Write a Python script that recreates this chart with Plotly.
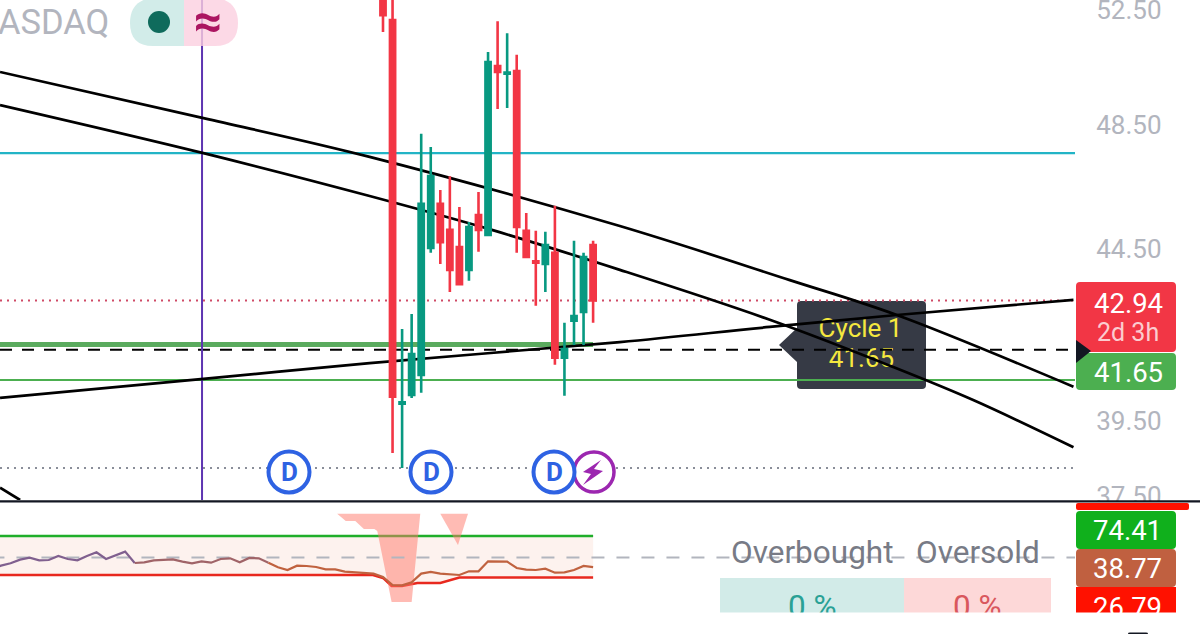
import math
import plotly.graph_objects as go

# ---------- data ----------
bar_index = list(range(0, 23))
opens  = [53.30,52.14,39.98,40.22,40.78,44.53,45.91,45.09,44.56,43.86,45.56,44.93,50.51,50.24,50.33,45.06,44.12,44.04,44.38,41.27,42.34,42.60,44.62]
highs  = [54.00,53.00,42.10,42.54,48.19,47.75,46.35,46.80,45.81,45.34,46.29,51.00,52.10,51.67,50.90,45.62,45.06,45.03,45.85,42.28,44.75,44.38,44.75]
lows   = [51.71,38.64,38.24,40.14,40.28,44.38,44.04,43.19,43.40,43.53,44.41,44.90,49.03,49.06,44.38,44.22,42.78,43.19,41.07,40.20,41.64,41.64,42.28]
closes = [52.32,40.17,40.02,41.38,45.91,46.80,44.71,43.86,43.43,45.18,45.09,50.65,50.30,50.28,45.18,44.25,44.08,44.62,41.27,41.52,42.48,44.25,42.94]

curve_a_x = [-40.1,-18.8,-1.4,24.8,42.6,53.8,72.3]
curve_a_y = [50.30,48.72,47.43,45.21,43.55,42.51,40.45]
curve_b_x = [-40.1,-18.8,-1.4,11.4,24.8,40.5,53.4,61.8,72.3]
curve_b_y = [49.16,47.55,46.16,45.09,43.86,42.37,41.01,40.08,38.79]
curve_c_x = [-40.1,-18.8,-1.4,24.8,40.5,53.8,72.3]
curve_c_y = [40.14,40.67,41.12,41.72,42.16,42.51,42.96]
curve_d_x = [-40.1,-38.0]
curve_d_y = [37.72,37.40]

level_cyan = 47.55
level_last = 42.94
level_thick = 41.65
level_dash = 41.50
level_green = 40.64
level_dots = 38.24
vline_x = -18.95

cycle_label = ["Cycle 1", "41.65"]
cycle_x = [50.0, 50.1]
cycle_y = [42.07, 41.19]

price_ticks = [52.5, 48.5, 44.5, 39.5, 37.5]
price_tick_text = ["52.50", "48.50", "44.50", "39.50", "37.50"]

rsi_x = list(range(-41, 23))
rsi = [36.57,40.39,43.07,47.27,49.57,46.51,46.89,51.48,48.04,46.51,51.48,55.69,48.04,52.24,56.45,43.45,
       44.21,46.51,47.27,47.66,44.98,43.07,45.36,43.83,48.04,48.80,44.21,49.19,48.80,43.83,38.48,35.42,
       40.39,40.01,38.86,36.19,36.19,33.51,32.75,31.98,31.22,27.39,18.22,17.84,21.28,31.22,33.13,31.22,
       30.45,29.69,33.89,33.89,45.36,45.36,44.98,37.72,35.80,35.42,36.95,32.36,32.75,35.42,40.01,38.77]
upper_band_x = [-41, 22]
upper_band = [74.41, 74.41]
lower_band_x = [-41,-1.05,0,0.9,2,3.6,6,8,22]
lower_band = [29.68,29.68,26.24,17.06,17.06,20.5,20.5,26.79,26.79]
mid_x = [-41, 72.46]
mid = [49.6, 49.6]
zone1_x = [-4.8,-3.9,-2.9,-2,-0.9,-0.6,0.9,3.0,3.9]
zone1_y = [100,91.6,91.6,82.4,82.4,80,-1.3,-1.3,100]
zone2_x = [6,7.85,8.9]
zone2_y = [100,64,100]

# ---------- layout helpers ----------
W, H = 1200, 634
XR = [-40.105, 72.46]
YR = [math.log10(37.40), math.log10(52.87)]
PLOT_R = 1075 / W
def px(x): return x / W
def py(y): return 1 - y / H

FONT = "Roboto"
RED, TEAL = "#f23645", "#089981"
fig = go.Figure()

def line(x, y, color, width, dash="solid", spline=False, xa="x", ya="y", **kw):
    fig.add_trace(go.Scatter(x=x, y=y, mode="lines", xaxis=xa, yaxis=ya, hoverinfo="skip",
                             line=dict(color=color, width=width, dash=dash,
                                       shape="spline" if spline else "linear"), **kw))

# cycle text sits under the drawings
fig.add_trace(go.Scatter(x=cycle_x, y=cycle_y, text=cycle_label, mode="text", hoverinfo="skip",
                         textposition="middle center",
                         textfont=dict(family=FONT, size=26, color="#f5e83f")))
line(XR, [level_cyan]*2, "#22b4c6", 2.2)
line(XR, [level_last]*2, "#cf4a66", 2, "2px,5px")
line(XR, [level_dots]*2, "#8a8e99", 2, "2px,5px")
line([XR[0], 22], [level_thick]*2, "#5aab5e", 5)
line(XR, [level_green]*2, "#4caf50", 2.2)
line(XR, [level_dash]*2, "#000000", 2.2, "12px,10px")
line([vline_x]*2, [37.40, 52.87], "#5e35b1", 2)
line(curve_a_x, curve_a_y, "#000000", 2.7, spline=True)
line(curve_b_x, curve_b_y, "#000000", 2.7, spline=True)
line(curve_c_x, curve_c_y, "#000000", 2.7, spline=True)
line(curve_d_x, curve_d_y, "#000000", 2.7)

fig.add_trace(go.Candlestick(
    x=bar_index, open=opens, high=highs, low=lows, close=closes,
    xaxis="x3", yaxis="y3", hoverinfo="skip", whiskerwidth=0,
    increasing=dict(line=dict(color=TEAL, width=2.6), fillcolor=TEAL),
    decreasing=dict(line=dict(color=RED, width=2.6), fillcolor=RED)))

# oscillator panel
line(upper_band_x, upper_band, "#1fae2a", 2.4, xa="x2", ya="y2")
line(lower_band_x, lower_band, "#e8281e", 2.4, xa="x2", ya="y2",
     fill="tonexty", fillcolor="rgba(250,225,215,0.42)")
line(zone1_x, zone1_y, "rgba(0,0,0,0)", 0, xa="x2", ya="y2", fill="toself", fillcolor="rgba(255,120,105,0.5)")
line(zone2_x, zone2_y, "rgba(0,0,0,0)", 0, xa="x2", ya="y2", fill="toself", fillcolor="rgba(255,120,105,0.5)")
line(mid_x, mid, "#b2b5be", 2, "13px,12px", xa="x2", ya="y2")
line(rsi_x[:16], rsi[:16], "#80608f", 2.2, xa="x2", ya="y2")
line(rsi_x[15:30], rsi[15:30], "#a06468", 2.2, xa="x2", ya="y2")
line(rsi_x[29:], rsi[29:], "#c0623f", 2.2, xa="x2", ya="y2")

# ---------- shapes ----------
def rrect(x0, y0, x1, y1, r=4):
    p = lambda x, y: f"{px(x):.5f},{py(y):.5f}"
    return (f"M{p(x0+r,y0)} L{p(x1-r,y0)} Q{p(x1,y0)} {p(x1,y0+r)} L{p(x1,y1-r)} Q{p(x1,y1)} {p(x1-r,y1)} "
            f"L{p(x0+r,y1)} Q{p(x0,y1)} {p(x0,y1-r)} L{p(x0,y0+r)} Q{p(x0,y0)} {p(x0+r,y0)} Z")
def poly(pts):
    return "M" + " L".join(f"{px(x):.5f},{py(y):.5f}" for x, y in pts) + " Z"
def path(d, fill, layer="above"):
    return dict(type="path", xref="paper", yref="paper", path=d, fillcolor=fill, line=dict(width=0), layer=layer)
def rect(x0, y0, x1, y1, fill, layer="above"):
    return dict(type="rect", xref="paper", yref="paper", x0=px(x0), x1=px(x1), y0=py(y0), y1=py(y1),
                fillcolor=fill, line=dict(width=0), layer=layer)
def circle(cx, cy, r, fill, stroke=None, w=0):
    return dict(type="circle", xref="paper", yref="paper", x0=px(cx-r), x1=px(cx+r), y0=py(cy-r), y1=py(cy+r),
                fillcolor=fill, line=dict(color=stroke or fill, width=w), layer="above")

BLUE, PURPLE = "#2e62e3", "#9c27b0"
shapes = [
    # tooltip, beneath the traces
    path(rrect(797, 301, 926, 389), "#363a45", "below"),
    path(poly([(797, 328), (779, 345), (797, 362)]), "#363a45", "below"),
    # mask for the price scale under the separator
    rect(1075.5, 501, 1200, 634, "#ffffff"),
    rect(0, 500.3, 1200, 502.6, "#131722"),
    # pill
    path(f"M{px(184)},{py(-2)} L{px(150)},{py(-2)} Q{px(130)},{py(2)} {px(130)},{py(23)} Q{px(130)},{py(46)} {px(153)},{py(46)} L{px(184)},{py(46)} Z", "#d2ece9"),
    path(f"M{px(184)},{py(-2)} L{px(218)},{py(-2)} Q{px(238)},{py(2)} {px(238)},{py(23)} Q{px(238)},{py(46)} {px(215)},{py(46)} L{px(184)},{py(46)} Z", "rgba(251,208,224,0.8)"),
    circle(159, 22, 11, "#0f6b5c"),
    # badges
    circle(594, 472, 20, "#ffffff", PURPLE, 3.5),
    path(poly([(601, 460), (583, 472), (591, 474), (583, 485), (603, 471), (594, 469)]), PURPLE),
    circle(289, 472, 20.5, "#ffffff", BLUE, 4),
    circle(431, 472, 20.5, "#ffffff", BLUE, 4),
    circle(554, 472, 20.5, "#ffffff", BLUE, 4),
    # price labels
    path(rrect(1076, 282, 1176, 352), RED),
    path(rrect(1076, 353, 1176, 390), "#4caf50"),
    path(poly([(1076, 340), (1091, 351), (1076, 363)]), "#131722"),
    # oscillator labels
    path(rrect(1076, 503, 1189, 510, 2), "#ff1100"),
    path(rrect(1076, 511, 1176, 549), "#10b01c"),
    path(rrect(1076, 549, 1176, 587), "#c06040"),
    rect(1076, 587, 1176, 613, "#ff1100"),
    # stats table
    rect(720, 578, 904, 613, "#d2ebe8"),
    rect(904, 578, 1051, 613, "#fdd8d8"),
    path(rrect(1128, 632, 1148, 640, 2), "#131722"),
]

# ---------- annotations ----------
def label(text, cx, cy, size, color, anchor="center", **kw):
    return dict(text=text, xref="paper", yref="paper", x=px(cx), y=py(cy), xanchor=anchor, yanchor="middle",
                showarrow=False, font=dict(family=FONT, size=size, color=color), **kw)

annotations = [
    label("ASDAQ", 110.5, 22, 34.5, "#b2b5be", "right"),
    label("<b>≈</b>", 208, 21, 50, "#ab1561", width=40, height=40, align="center", valign="middle"),
    label("<b>D</b>", 289, 472, 26, BLUE),
    label("<b>D</b>", 431, 472, 26, BLUE),
    label("<b>D</b>", 554, 472, 26, BLUE),
    label("42.94", 1128, 303, 27.5, "#ffffff"),
    label("2d 3h", 1128, 333, 25, "rgba(255,255,255,0.75)"),
    label("41.65", 1128, 372, 27.5, "#ffffff"),
    label("74.41", 1127, 530, 27.5, "#ffffff"),
    label("38.77", 1127, 568, 27.5, "#ffffff"),
    label("26.79", 1127, 607, 27.5, "#ffffff"),
    label("Overbought", 812, 552, 31.5, "#787b86"),
    label("Oversold", 978, 552, 31.5, "#787b86"),
    label("0 %", 812, 606, 31.5, "#2aa195"),
    label("0 %", 978, 606, 31.5, "#d9575d"),
    # white strip that trims the cropped bottom row
    dict(text=" ", xref="paper", yref="paper", x=px(960), y=py(622.5), xanchor="center", yanchor="middle",
         showarrow=False, width=480, height=19, bgcolor="#ffffff", borderpad=0, font=dict(size=10)),
]

hidden = dict(visible=False, showgrid=False, zeroline=False, range=XR, domain=[0, PLOT_R])
fig.update_layout(
    width=W, height=H, autosize=False,
    margin=dict(l=0, r=0, t=0, b=0, pad=0, autoexpand=False),
    paper_bgcolor="#ffffff", plot_bgcolor="rgba(0,0,0,0)",
    showlegend=False, boxgap=0.22, hovermode=False, dragmode=False,
    font=dict(family=FONT),
    xaxis=dict(hidden, anchor="y"),
    xaxis2=dict(hidden, anchor="y2"),
    xaxis3=dict(hidden, anchor="y3", overlaying="x", rangeslider=dict(visible=False)),
    yaxis=dict(type="log", range=YR, domain=[1 - 500 / H, 1], side="right", anchor="x",
               showgrid=False, zeroline=False, showline=False,
               tickmode="array", tickvals=price_ticks, ticktext=price_tick_text,
               ticks="outside", ticklen=15, tickcolor="rgba(0,0,0,0)", ticklabeloverflow="allow",
               tickfont=dict(family=FONT, size=26, color="#b2b5be")),
    yaxis2=dict(visible=False, range=[-38, 113.4], domain=[0, 1 - 502 / H], anchor="x2",
                showgrid=False, zeroline=False),
    yaxis3=dict(type="log", visible=False, range=YR, domain=[1 - 500 / H, 1], overlaying="y",
                anchor="x3", showgrid=False, zeroline=False),
    shapes=shapes, annotations=annotations,
)
fig.write_html("out.html", config=dict(displayModeBar=False, responsive=False),
               post_script="document.body.style.margin='0';document.documentElement.style.overflow='hidden';")
